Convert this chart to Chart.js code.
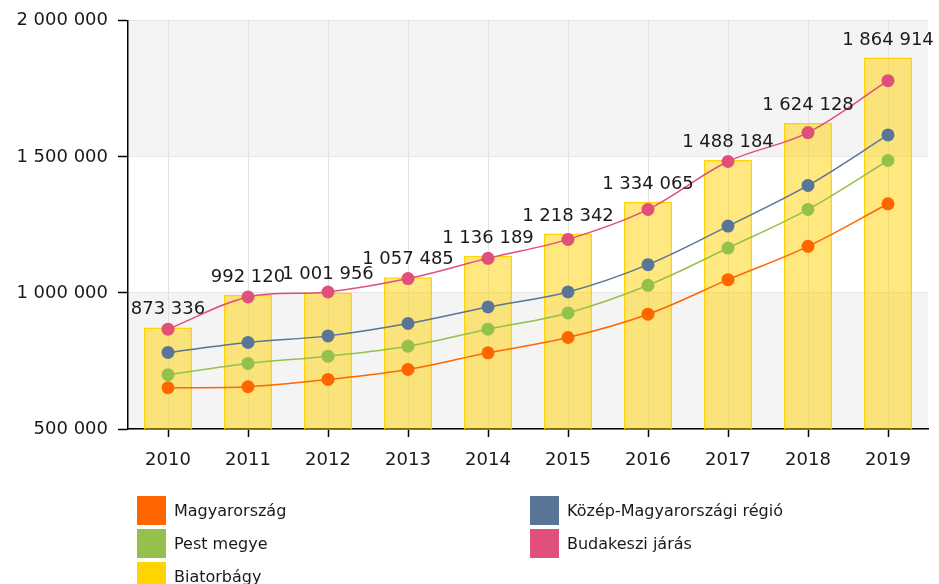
<!DOCTYPE html>
<html>
<head>
<meta charset="utf-8">
<script src="https://cdn.jsdelivr.net/npm/chart.js@4/dist/chart.umd.min.js"></script>
<style>
  body { margin: 0; background: #fff; }
  #chart { display: block; }
</style>
</head>
<body>
<canvas id="chart" width="939" height="584"></canvas>
<script>
// Data
const years = ['2010', '2011', '2012', '2013', '2014', '2015', '2016', '2017', '2018', '2019'];
const biatorbagy = [873336, 992120, 1001956, 1057485, 1136189, 1218342, 1334065, 1488184, 1624128, 1864914];
const magyarorszag = [651600, 655200, 682200, 718800, 779900, 836200, 921800, 1048900, 1171100, 1327600];
const pestMegye = [699300, 740800, 767700, 804400, 866800, 926600, 1028100, 1165000, 1306900, 1486600];
const kozepMagyar = [781300, 818000, 842200, 887600, 948600, 1003600, 1104000, 1245700, 1394900, 1580700];
const budakeszi = [866700, 985200, 1003500, 1052700, 1127100, 1196800, 1306900, 1482900, 1589200, 1780000];
const yMin = 500000;
const yMax = 2000000;
const yStep = 500000;

const FONT = '"DejaVu Sans", Verdana, sans-serif';

function fmt(v) {
    return String(v).replace(/\B(?=(\d{3})+(?!\d))/g, ' ');
}

function lineSet(label, data, color) {
    return {
        type: 'line',
        label: label,
        data: data,
        borderColor: color,
        backgroundColor: color,
        borderWidth: 1.5,
        pointRadius: 6.5,
        pointBorderWidth: 0,
        pointBackgroundColor: color,
        tension: 0.35,
        fill: false,
        order: 1
    };
}

// alternating background bands
const bandPlugin = {
    id: 'bands',
    beforeDraw(chart) {
        const { ctx, chartArea, scales } = chart;
        const y = scales.y;
        ctx.save();
        let i = 0;
        for (let v = yMin; v < yMax; v += yStep) {
            const top = y.getPixelForValue(v + yStep);
            const bottom = y.getPixelForValue(v);
            ctx.fillStyle = (i % 2 === 0) ? '#f4f4f4' : '#ffffff';
            ctx.fillRect(chartArea.left, top, chartArea.right - chartArea.left, bottom - top);
            i++;
        }
        ctx.restore();
    }
};

// value labels above the bars
const barLabelPlugin = {
    id: 'barLabels',
    afterDatasetsDraw(chart) {
        const { ctx } = chart;
        chart.data.datasets.forEach((ds, di) => {
            if (ds.type !== 'bar') return;
            const meta = chart.getDatasetMeta(di);
            ctx.save();
            ctx.font = '18px ' + FONT;
            ctx.fillStyle = '#1a1a1a';
            ctx.textAlign = 'center';
            ctx.textBaseline = 'alphabetic';
            meta.data.forEach((el, i) => {
                ctx.fillText(fmt(ds.data[i]), el.x, el.y - 13);
            });
            ctx.restore();
        });
    }
};

// two column legend under the chart
const legendPlugin = {
    id: 'customLegend',
    afterDraw(chart) {
        const { ctx } = chart;
        const order = ['Magyarország', 'Közép-Magyarországi régió', 'Pest megye', 'Budakeszi járás', 'Biatorbágy'];
        const colX = [137, 530];
        const rowY = [496, 529, 562];
        const box = 29;
        ctx.save();
        ctx.font = '16px ' + FONT;
        ctx.textBaseline = 'middle';
        ctx.textAlign = 'left';
        order.forEach((name, i) => {
            const ds = chart.data.datasets.find(d => d.label === name);
            const x = colX[i % 2];
            const y = rowY[Math.floor(i / 2)];
            ctx.fillStyle = ds.legendColor || ds.borderColor;
            ctx.fillRect(x, y, box, box);
            ctx.fillStyle = '#1a1a1a';
            ctx.fillText(name, x + box + 8, y + box / 2 + 1);
        });
        ctx.restore();
    }
};

new Chart(document.getElementById('chart'), {
    data: {
        labels: years,
        datasets: [
            lineSet('Budakeszi járás', budakeszi, '#e0507a'),
            lineSet('Közép-Magyarországi régió', kozepMagyar, '#5a7596'),
            lineSet('Pest megye', pestMegye, '#95c14b'),
            lineSet('Magyarország', magyarorszag, '#ff6600'),
            {
                type: 'bar',
                label: 'Biatorbágy',
                data: biatorbagy,
                backgroundColor: 'rgba(255, 210, 0, 0.5)',
                borderColor: '#ffd400',
                borderWidth: 1.5,
                borderSkipped: 'bottom',
                legendColor: '#ffd400',
                categoryPercentage: 1,
                barPercentage: 0.6,
                order: 10
            }
        ]
    },
    options: {
        responsive: false,
        animation: false,
        layout: { padding: { top: 20, right: 11, bottom: 105, left: 0 } },
        plugins: {
            legend: { display: false },
            tooltip: { enabled: false }
        },
        scales: {
            x: {
                offset: true,
                grid: {
                    offset: false,
                    color: '#e2e2e2',
                    lineWidth: 1,
                    tickColor: '#000',
                    tickLength: 8,
                    tickWidth: 1.5
                },
                border: { color: '#000', width: 1.5 },
                ticks: {
                    font: { family: FONT, size: 18 },
                    color: '#1a1a1a',
                    padding: 13,
                    maxRotation: 0
                },
                afterFit(scale) { scale.height = 50; }
            },
            y: {
                min: yMin,
                max: yMax,
                grid: {
                    color: '#e6e6e6',
                    lineWidth: 1,
                    tickColor: '#000',
                    tickLength: 10,
                    tickWidth: 1.5
                },
                border: { color: '#000', width: 1.5 },
                ticks: {
                    stepSize: yStep,
                    font: { family: FONT, size: 18 },
                    color: '#1a1a1a',
                    padding: 10,
                    callback: v => fmt(v)
                },
                afterFit(scale) { scale.width = 128; }
            }
        }
    },
    plugins: [bandPlugin, barLabelPlugin, legendPlugin]
});
</script>
</body>
</html>
